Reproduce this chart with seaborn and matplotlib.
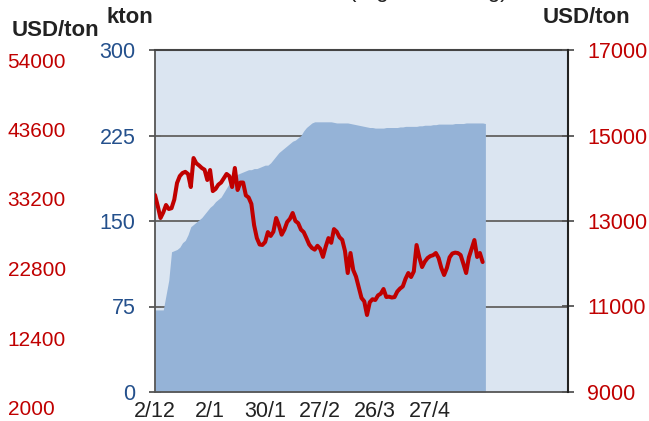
import numpy as np
import pandas as pd
import matplotlib
matplotlib.use("Agg")
import matplotlib.pyplot as plt
import seaborn as sns

# ---- data ----
stocks_kton = [72, 72, 72, 72, 85, 98, 123, 124, 125, 127,
               131, 133, 138, 145, 147, 149, 151, 153, 156, 159,
               162, 164, 167, 169, 171, 175, 179, 183, 186, 189,
               191, 192, 193, 194, 195, 195, 196, 196, 197, 198,
               199, 199, 201, 204, 207, 210, 212, 214, 216, 218,
               220, 221, 223, 225, 229, 232, 234, 236, 237, 237,
               237, 237, 237, 237, 237, 236.5, 236, 236, 236, 236,
               236, 235.5, 235, 234.5, 234, 233.5, 233, 232.5, 232, 232,
               231.5, 231.5, 231.5, 231.5, 232, 232, 232, 232, 232, 232.5,
               232.5, 233, 233, 233, 233, 233, 233.5, 233.5, 234, 234,
               234, 234.5, 234.5, 235, 235, 235, 235, 235, 235, 235.5,
               235.5, 235.5, 235.5, 236, 236, 236, 236, 236, 236, 236,
               235.5]
price_usd = [13608, 13350, 13070, 13200, 13374, 13280, 13300, 13500, 13889, 14050,
             14122, 14150, 14100, 13795, 14473, 14350, 14300, 14240, 14200, 13959,
             14193, 13700, 13750, 13850, 13900, 14000, 14100, 14050, 13795, 14240,
             13725, 13900, 13900, 13600, 13550, 13400, 12900, 12600, 12450, 12440,
             12509, 12740, 12650, 12750, 13070, 12900, 12680, 12800, 12976, 13050,
             13187, 13000, 12950, 12800, 12740, 12600, 12450, 12370, 12330, 12420,
             12350, 12160, 12400, 12600, 12490, 12810, 12750, 12620, 12560, 12300,
             11783, 12251, 11853, 11700, 11450, 11200, 11120, 10801, 11100, 11170,
             11152, 11260, 11300, 11409, 11222, 11230, 11210, 11220, 11350, 11420,
             11470, 11650, 11783, 11690, 11820, 12438, 12150, 11923, 12050, 12134,
             12180, 12200, 12251, 12134, 11900, 11737, 11900, 12150, 12240, 12260,
             12250, 12204, 12000, 11783, 12150, 12350, 12555, 12158, 12251, 12040]
x_tick_pos = [0, 20, 40, 60, 80, 100, 120, 140]
x_tick_labels = ["2/12", "2/1", "30/1", "27/2", "26/3", "27/4", "", ""]
left_ticks = [0, 75, 150, 225, 300]
right_ticks = [9000, 11000, 13000, 15000, 17000]
far_left_ticks = [2000, 12400, 22800, 33200, 43600, 54000]

df_stock = pd.DataFrame({"idx": np.arange(len(stocks_kton)), "kton": stocks_kton})
df_price = pd.DataFrame({"idx": np.arange(len(price_usd)), "usd": price_usd})

# ---- style ----
sns.set_theme(style="white")
plt.rcParams["font.family"] = ["Liberation Sans", "DejaVu Sans"]

W, H = 649, 421
fig = plt.figure(figsize=(W / 100, H / 100), dpi=100)
L, R, T, B = 155, 568, 50, 392
ax = fig.add_axes([L / W, 1 - B / H, (R - L) / W, (B - T) / H])

bg = "#dbe5f1"
area_c = "#95b3d7"
red = "#c00000"
blue = "#24508c"
grey = "#555555"

ax.set_facecolor(bg)
ax.fill_between(df_stock["idx"], 0, df_stock["kton"], color=area_c, lw=0, zorder=2)
for v in left_ticks[1:-1]:
    ax.axhline(v, color="#6b6b6b", lw=1.4, zorder=1)
ax.set_xlim(0, 150)
ax.set_ylim(0, 300)
ax.set_xticks(x_tick_pos)
ax.set_xticklabels(x_tick_labels)
ax.set_yticks(left_ticks)
ax.tick_params(axis="x", direction="inout", length=9, width=1, color=grey,
               labelsize=15.5, labelcolor="#222222", pad=2)
ax.tick_params(axis="y", direction="inout", length=8, width=1.3, color=grey,
               labelsize=15.5, labelcolor=blue, pad=10)
for s in ["left", "bottom"]:
    ax.spines[s].set_color(grey)
    ax.spines[s].set_linewidth(1.3)
ax.spines["top"].set_color("#444444")
ax.spines["top"].set_linewidth(1.5)
ax.spines["right"].set_visible(False)
ax.set_xlabel("")
ax.set_ylabel("")

ax2 = ax.twinx()
sns.lineplot(data=df_price, x="idx", y="usd", ax=ax2, color=red, lw=2.9, zorder=5)
ax2.set_ylim(9000, 17000)
ax2.set_yticks(right_ticks)
ax2.tick_params(axis="y", direction="inout", length=8, width=1.3, color=grey,
                labelsize=15.5, labelcolor=red, pad=10)
ax2.spines["right"].set_color("#222222")
ax2.spines["right"].set_linewidth(1.5)
for s in ["left", "top", "bottom"]:
    ax2.spines[s].set_visible(False)
ax2.set_xlabel("")
ax2.set_ylabel("")
ax2.set_xlim(0, 150)

# far-left extra price scale
ax3 = fig.add_axes([8 / W, 1 - 407.5 / H, 1 / W, (407.5 - 60) / H])
ax3.set_ylim(2000, 54000)
ax3.set_yticks(far_left_ticks)
ax3.yaxis.tick_right()
ax3.tick_params(axis="y", length=0, pad=-1, labelsize=15, labelcolor=red)
ax3.set_xticks([])
ax3.patch.set_visible(False)
for s in ax3.spines.values():
    s.set_visible(False)

# unit labels
fig.text(12 / W, 1 - 36 / H, "USD/ton", fontsize=16, fontweight="bold",
         color="#222222", va="baseline")
fig.text(107 / W, 1 - 23 / H, "kton", fontsize=16, fontweight="bold",
         color="#222222", va="baseline")
fig.text(543 / W, 1 - 23 / H, "USD/ton", fontsize=16, fontweight="bold",
         color="#222222", va="baseline")
fig.text(428 / W, 1 + 3 / H, "(regular trading)", fontsize=16, color="#222222",
         ha="center", va="baseline")

fig.savefig("out.png", dpi=100)
